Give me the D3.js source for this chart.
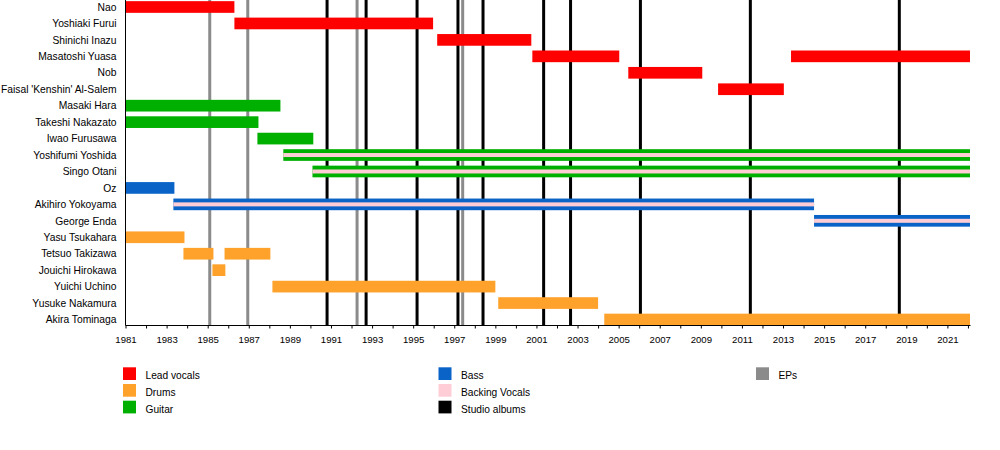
<!DOCTYPE html>
<html>
<head>
<meta charset="utf-8">
<script src="https://cdn.jsdelivr.net/npm/d3@7/dist/d3.min.js"></script>
<style>
  html, body { margin: 0; padding: 0; background: #fff; }
  svg { display: block; }
  text { font-family: "Liberation Sans", Arial, Helvetica, sans-serif; fill: #000; }
</style>
</head>
<body>
<svg id="chart" width="1000" height="450"></svg>
<script>
// ---- data ----
const members = [
  "Nao", "Yoshiaki Furui", "Shinichi Inazu", "Masatoshi Yuasa", "Nob",
  "Faisal 'Kenshin' Al-Salem", "Masaki Hara", "Takeshi Nakazato", "Iwao Furusawa",
  "Yoshifumi Yoshida", "Singo Otani", "Oz", "Akihiro Yokoyama", "George Enda",
  "Yasu Tsukahara", "Tetsuo Takizawa", "Jouichi Hirokawa", "Yuichi Uchino",
  "Yusuke Nakamura", "Akira Tominaga"
];

const startYear = 1981;
const endYear = 2022.1;

// [member, role, from, to]
const periods = [
  ["Nao", "vocals", 1981.0, 1986.3],
  ["Yoshiaki Furui", "vocals", 1986.3, 1995.97],
  ["Shinichi Inazu", "vocals", 1996.17, 2000.75],
  ["Masatoshi Yuasa", "vocals", 2000.8, 2005.03],
  ["Masatoshi Yuasa", "vocals", 2013.39, endYear],
  ["Nob", "vocals", 2005.47, 2009.07],
  ["Faisal 'Kenshin' Al-Salem", "vocals", 2009.84, 2013.04],
  ["Masaki Hara", "guitar", 1981.0, 1988.54],
  ["Takeshi Nakazato", "guitar", 1981.0, 1987.47],
  ["Iwao Furusawa", "guitar", 1987.42, 1990.14],
  ["Yoshifumi Yoshida", "guitar", 1988.68, endYear],
  ["Singo Otani", "guitar", 1990.1, endYear],
  ["Oz", "bass", 1981.0, 1983.38],
  ["Akihiro Yokoyama", "bass", 1983.33, 2014.51],
  ["George Enda", "bass", 2014.51, endYear],
  ["Yasu Tsukahara", "drums", 1981.0, 1983.87],
  ["Tetsuo Takizawa", "drums", 1983.82, 1985.28],
  ["Tetsuo Takizawa", "drums", 1985.82, 1988.05],
  ["Jouichi Hirokawa", "drums", 1985.23, 1985.86],
  ["Yuichi Uchino", "drums", 1988.15, 1999.0],
  ["Yusuke Nakamura", "drums", 1999.14, 2004.0],
  ["Akira Tominaga", "drums", 2004.3, endYear]
];

// backing vocals stripes [member, from, to]
const backing = [
  ["Yoshifumi Yoshida", 1988.68, endYear],
  ["Singo Otani", 1990.1, endYear],
  ["Akihiro Yokoyama", 1983.33, 2014.51],
  ["George Enda", 2014.51, endYear]
];

const studioAlbums = [1990.81, 1992.71, 1995.19, 1997.18, 1998.4, 2001.35, 2002.66, 2006.06, 2011.41, 2018.66];
const eps = [1985.1, 1986.95, 1992.27, 1997.41];

const tickYears = d3.range(1981, 2023);

const roleColors = {
  vocals: "#ff0000",
  drums: "#ffa22c",
  guitar: "#00b000",
  bass: "#0a64c8",
  backing: "#ffcdd5",
  studio: "#000000",
  ep: "#8b8b8b"
};

const legendItems = [
  ["Lead vocals", "vocals", 0, 0],
  ["Drums", "drums", 0, 1],
  ["Guitar", "guitar", 0, 2],
  ["Bass", "bass", 1, 0],
  ["Backing Vocals", "backing", 1, 1],
  ["Studio albums", "studio", 1, 2],
  ["EPs", "ep", 2, 0]
];

// ---- layout ----
const svg = d3.select("#chart");
const plotLeft = 125.5, plotRight = 970, plotTop = 0, axisY = 325.5;

const x = d3.scaleLinear().domain([startYear, endYear]).range([plotLeft, plotRight]);
const y = d3.scaleBand().domain(members)
  .range([-1.225, 327.725]).paddingInner(0.29).paddingOuter(0.145);

// album lines (back layer)
svg.append("g").selectAll("line.ep").data(eps).join("line")
  .attr("x1", d => x(d)).attr("x2", d => x(d))
  .attr("y1", plotTop).attr("y2", axisY)
  .attr("stroke", roleColors.ep).attr("stroke-width", 3);
svg.append("g").selectAll("line.al").data(studioAlbums).join("line")
  .attr("x1", d => x(d)).attr("x2", d => x(d))
  .attr("y1", plotTop).attr("y2", axisY)
  .attr("stroke", roleColors.studio).attr("stroke-width", 3);

// bars
svg.append("g").selectAll("rect").data(periods).join("rect")
  .attr("x", d => x(d[2]))
  .attr("width", d => x(d[3]) - x(d[2]))
  .attr("y", d => y(d[0]))
  .attr("height", y.bandwidth())
  .attr("fill", d => roleColors[d[1]]);

// backing vocal stripes
const stripeH = 4;
svg.append("g").selectAll("rect").data(backing).join("rect")
  .attr("x", d => x(d[1]))
  .attr("width", d => x(d[2]) - x(d[1]))
  .attr("y", d => y(d[0]) + y.bandwidth() / 2 - stripeH / 2)
  .attr("height", stripeH)
  .attr("fill", roleColors.backing);

// member labels
svg.append("g").selectAll("text").data(members).join("text")
  .attr("x", 116.5)
  .attr("y", d => y(d) + y.bandwidth() / 2)
  .attr("dy", "0.36em")
  .attr("text-anchor", "end")
  .style("font-size", "10.3px")
  .text(d => d);

// x axis
const axis = d3.axisBottom(x)
  .tickValues(tickYears)
  .tickSize(3)
  .tickPadding(8)
  .tickFormat(d => ((d - 1981) % 2 === 0) ? String(d) : "");
const gx = svg.append("g").attr("transform", `translate(0,${axisY})`).call(axis);
gx.select(".domain").remove();
gx.selectAll("text").style("font-size", "9.6px").style("font-family", '"Liberation Sans", Arial, sans-serif');
gx.selectAll("line").attr("stroke", "#000");
svg.append("line").attr("x1", plotLeft).attr("x2", plotRight + 0.5)
  .attr("y1", axisY).attr("y2", axisY).attr("stroke", "#000").attr("stroke-width", 1);
svg.append("line").attr("x1", plotLeft).attr("x2", plotLeft)
  .attr("y1", plotTop).attr("y2", axisY).attr("stroke", "#000").attr("stroke-width", 1);

// legend
const colX = [123, 438.5, 756];
const rowY = [367.3, 384, 400.7];
const lg = svg.append("g").selectAll("g").data(legendItems).join("g")
  .attr("transform", d => `translate(${colX[d[2]]},${rowY[d[3]]})`);
lg.append("rect").attr("width", 13).attr("height", 12.7).attr("fill", d => roleColors[d[1]]);
lg.append("text").attr("x", 22.5).attr("y", 12).style("font-size", "10.2px").text(d => d[0]);
</script>
</body>
</html>
